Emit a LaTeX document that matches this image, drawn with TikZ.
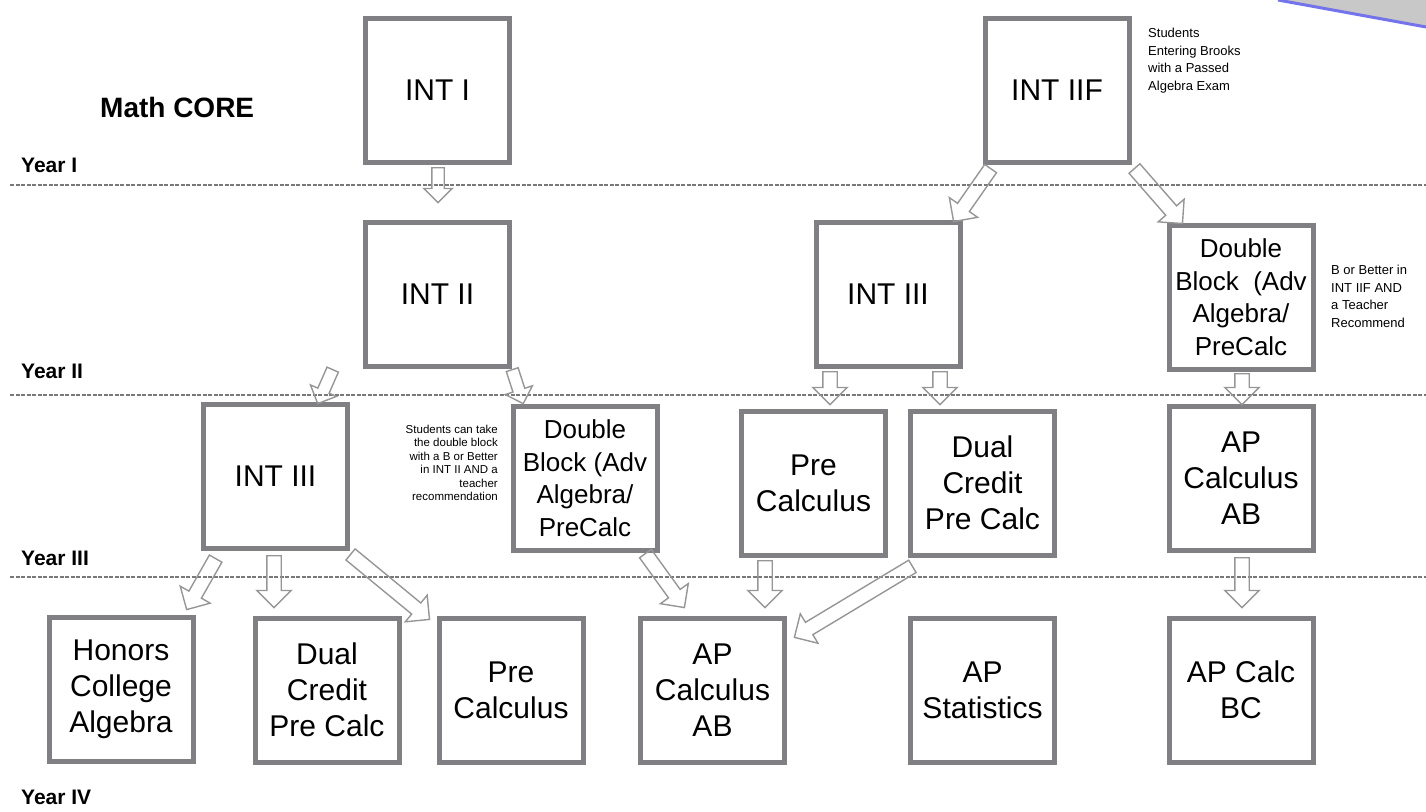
\documentclass[tikz,border=0pt]{standalone}
\usepackage{fontspec}
\setmainfont{Liberation Sans}
\usetikzlibrary{shapes.arrows,calc}
\definecolor{boxgray}{RGB}{128,128,132}
\definecolor{arrgray}{RGB}{150,150,150}
\definecolor{linegray}{RGB}{120,120,120}
\definecolor{curlblue}{RGB}{115,115,235}
\definecolor{curlgray}{RGB}{200,200,200}
\newcommand{\blockarrow}[3][]{%
  \path let \p1=(#2), \p2=(#3),
    \n1={atan2(\y2-\y1,\x2-\x1)},
    \n2={veclen(\x2-\x1,\y2-\y1)} in
    node[barrow,#1,minimum height=\n2,rotate=\n1,anchor=tail] at (#2) {};}
\tikzset{
  box/.style={draw=boxgray, line width=5pt, minimum width=144pt, minimum height=144pt,
    inner sep=0pt, align=center, font=\fontsize{30}{36}\selectfont},
  dbox/.style={box, font=\fontsize{26}{32.5}\selectfont},
  barrow/.style={single arrow, draw=arrgray, line width=1.4pt, text height=6.5pt, text depth=6.5pt,
    text width=0pt, single arrow head extend=10pt, single arrow tip angle=90, inner sep=0pt},
  smallarrow/.style={text height=5.5pt, text depth=5.5pt, single arrow head extend=8pt},
  yearline/.style={draw=linegray, line width=1.5pt, dash pattern=on 4pt off 1.5pt},
  yearlabel/.style={anchor=base west, inner sep=0pt, font=\fontsize{21}{25}\selectfont\bfseries},
  note/.style={inner sep=0pt, font=\fontsize{13}{17.5}\selectfont, align=left},
}
\begin{document}
\begin{tikzpicture}[x=1pt,y=-1pt]
\useasboundingbox (0,0) rectangle (1426,811);
% page curl
\fill[curlgray] (1278,0) -- (1426,0) -- (1426,27) -- cycle;
\draw[curlblue, line width=3pt] (1278,0) -- (1426,27);
% year separators
\coordinate (l1a) at (10,185); \coordinate (l1b) at (1426,185);
\coordinate (l2a) at (10,395); \coordinate (l2b) at (1426,395);
\coordinate (l3a) at (10,577); \coordinate (l3b) at (1426,577);
\draw[yearline] (l1a) -- (l1b);
\draw[yearline] (l2a) -- (l2b);
\draw[yearline] (l3a) -- (l3b);
% labels
\node[anchor=base west, inner sep=0pt, font=\fontsize{28}{32}\selectfont\bfseries] (core) at (100,117) {Math CORE};
\node[yearlabel] (y1) at (21,172) {Year I};
\node[yearlabel] (y2) at (21,378) {Year II};
\node[yearlabel] (y3) at (21,565) {Year III};
\node[yearlabel] (y4) at (21,804) {Year IV};
% Year I
\node[box] (int1) at (437.5,90.5) {INT I};
\node[box] (int2f) at (1057,90) {INT IIF};
\node[note, anchor=north west] (n1) at (1148,28) {Students\\Entering Brooks\\with a Passed\\Algebra Exam};
% Year II
\node[box] (int2) at (437.5,294) {INT II};
\node[box] (int3a) at (888,294) {INT III};
\node[dbox] (dbR) at (1241,297) {Double\\Block\ \ (Adv\\Algebra/\\PreCalc};
\node[note, anchor=north west] (n2) at (1331,265) {B or Better in\\INT IIF AND\\a Teacher\\Recommend};
% Year III
\node[box] (int3b) at (275.5,476) {INT III};
\node[dbox] (dbL) at (585,478) {Double\\Block (Adv\\Algebra/\\PreCalc};
\node[note, anchor=north east, align=right, font=\fontsize{11.5}{13.4}\selectfont] (n3) at (498,425)
  {Students can take\\the double block\\with a B or Better\\in INT II AND a\\teacher\\recommendation};
\node[box] (preA) at (813.5,483) {Pre\\Calculus};
\node[box] (dualA) at (982.5,483) {Dual\\Credit\\Pre Calc};
\node[box] (apabA) at (1241,478) {AP\\Calculus\\AB};
% Year IV
\node[box] (hon) at (121,689) {Honors\\College\\Algebra};
\node[box] (dualB) at (327,690) {Dual\\Credit\\Pre Calc};
\node[box] (preB) at (511,690) {Pre\\Calculus};
\node[box] (apabB) at (712.5,690) {AP\\Calculus\\AB};
\node[box] (apst) at (982.5,690) {AP\\Statistics};
\node[box] (apbc) at (1241,690) {AP Calc\\BC};
% arrow end points
\coordinate (a1s) at (438,167);  \coordinate (a1e) at (438,202);
\coordinate (a2s) at (991,168);  \coordinate (a2e) at (954,221);
\coordinate (a3s) at (1134,168); \coordinate (a3e) at (1182,223);
\coordinate (a4s) at (333,369);  \coordinate (a4e) at (318,403);
\coordinate (a5s) at (512,369);  \coordinate (a5e) at (523,403);
\coordinate (a6s) at (830,371);  \coordinate (a6e) at (830,404);
\coordinate (a7s) at (940,371);  \coordinate (a7e) at (940,404);
\coordinate (a8s) at (1242,373); \coordinate (a8e) at (1242,404);
\coordinate (a9s) at (216,558);  \coordinate (a9e) at (187,609);
\coordinate (a10s) at (274,555); \coordinate (a10e) at (274,607);
\coordinate (a11s) at (350,554); \coordinate (a11e) at (429,619);
\coordinate (a12s) at (645,553); \coordinate (a12e) at (684,607);
\coordinate (a13s) at (765,560); \coordinate (a13e) at (765,607);
\coordinate (a14s) at (913,566); \coordinate (a14e) at (795,637);
\coordinate (a15s) at (1242,557); \coordinate (a15e) at (1242,607);
% arrows
\blockarrow[smallarrow]{a1s}{a1e}
\blockarrow{a2s}{a2e}
\blockarrow{a3s}{a3e}
\blockarrow[smallarrow]{a4s}{a4e}
\blockarrow[smallarrow]{a5s}{a5e}
\blockarrow{a6s}{a6e}
\blockarrow{a7s}{a7e}
\blockarrow{a8s}{a8e}
\blockarrow{a9s}{a9e}
\blockarrow{a10s}{a10e}
\blockarrow{a11s}{a11e}
\blockarrow{a12s}{a12e}
\blockarrow{a13s}{a13e}
\blockarrow{a14s}{a14e}
\blockarrow{a15s}{a15e}
\end{tikzpicture}
\end{document}
